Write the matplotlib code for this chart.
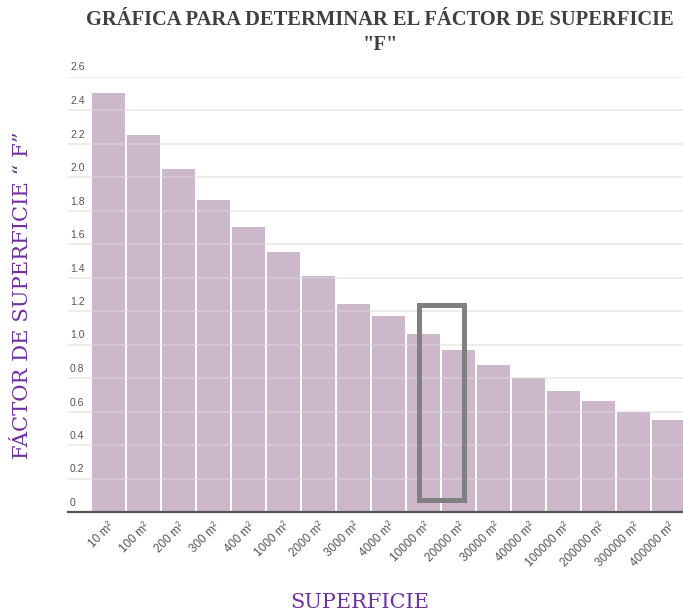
import matplotlib
matplotlib.use('Agg')
import matplotlib.pyplot as plt
import matplotlib.transforms as mtransforms
from matplotlib.patches import Rectangle

# superficie categories and the "F" factor for each one
superficies = ['10 m²', '100 m²', '200 m²', '300 m²', '400 m²', '1000 m²',
               '2000 m²', '3000 m²', '4000 m²', '10000 m²', '20000 m²',
               '30000 m²', '40000 m²', '100000 m²', '200000 m²',
               '300000 m²', '400000 m²']
factor_f = [2.50, 2.25, 2.05, 1.86, 1.70, 1.55, 1.41, 1.24, 1.17, 1.06,
            0.97, 0.88, 0.80, 0.72, 0.66, 0.60, 0.55]
y_ticks = [0, 0.2, 0.4, 0.6, 0.8, 1.0, 1.2, 1.4, 1.6, 1.8, 2.0, 2.2, 2.4, 2.6]
y_tick_labels = ['0', '0.2', '0.4', '0.6', '0.8', '1.0', '1.2', '1.4',
                 '1.6', '1.8', '2.0', '2.2', '2.4', '2.6']
marcados = [9, 10]   # 10000 m² y 20000 m²

purple = '#7030a0'
bar_color = '#cdb7ca'

fig = plt.figure(figsize=(6.83, 6.13), dpi=100)
ax = fig.add_axes([68/683, 101/613, 615/683, 435.5/613])

x = list(range(len(superficies)))
ax.bar(x, factor_f, width=0.94, color=bar_color, zorder=2)

ax.set_xlim(-1.157, 16.41)
ax.set_ylim(0, 2.6)

# horizontal grid, drawn over the bars so it shows faintly through them
for t in y_ticks[1:]:
    ax.axhline(t, color='#d8d8d8', lw=1.2, alpha=0.55, zorder=3)

# y labels sit on top of their gridline, left aligned
ax.set_yticks([])
off = mtransforms.offset_copy(ax.get_yaxis_transform(), fig=fig, x=2, y=4, units='dots')
for t, lab in zip(y_ticks, y_tick_labels):
    ax.text(0, t, lab, transform=off, ha='left', va='bottom',
            fontsize=7.5, color='#555555', family='Liberation Sans')

ax.set_xticks(x)
ax.set_xticklabels(superficies, rotation=45, ha='right', rotation_mode='anchor',
                   fontsize=8.5, color='#555555', family='Liberation Sans')
ax.tick_params(axis='x', length=0, pad=6)

for s in ['top', 'right', 'left']:
    ax.spines[s].set_visible(False)
ax.spines['bottom'].set_color('#555555')
ax.spines['bottom'].set_linewidth(1.6)
ax.spines['bottom'].set_zorder(4)

# gray frame around the selected bars
x0 = marcados[0] - 0.143
x1 = marcados[-1] + 0.143
ax.add_patch(Rectangle((x0, 0.069), x1 - x0, 1.164, fill=False,
                       edgecolor='#808080', lw=3.6, zorder=5))

fig.text(380/683, 1 - 10/613, 'GRÁFICA PARA DETERMINAR EL FÁCTOR DE SUPERFICIE\n"F"',
         ha='center', va='top', fontsize=14.8, fontweight='bold',
         family='Liberation Serif', color='#404040', linespacing=1.3)
fig.text(23/683, 1 - 295/613, 'FÁCTOR DE SUPERFICIE “ F”', rotation=90,
         ha='center', va='center', fontsize=15.2, family='DejaVu Serif', color=purple)
fig.text(360/683, 1 - 603/613, 'SUPERFICIE', ha='center', va='center',
         fontsize=15, family='DejaVu Serif', color=purple)

fig.savefig('out.png', dpi=100)
